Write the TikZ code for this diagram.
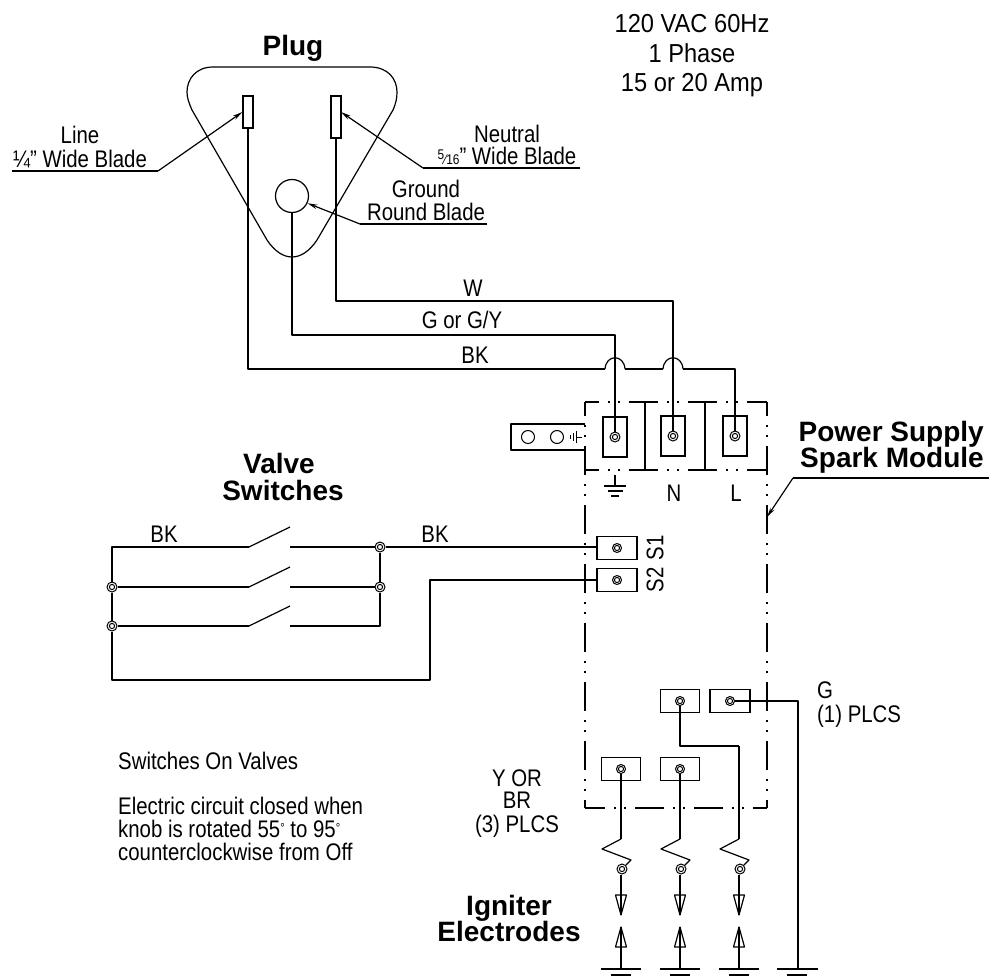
\documentclass[tikz,border=0pt]{standalone}
\usepackage{fontspec}
\setmainfont{Liberation Sans}[FakeStretch=0.85]
\newfontfamily\hbf{Liberation Sans}[BoldFont={Liberation Sans Bold}]
\newfontfamily\wdf{Liberation Sans}[FakeStretch=0.91]
\usetikzlibrary{arrows.meta,calc}
\newcommand{\degmark}{{\fontsize{13}{13}\selectfont\raisebox{5pt}{°}}}
\tikzset{
  wire/.style={line width=1.2pt,line join=round,black},
  plain/.style={line width=1.2pt,line join=round},
  box/.style={draw,line width=1.2pt,fill=white,rectangle,inner sep=0pt},
  module/.style={line width=1.2pt,dash pattern=on 29pt off 9pt on 2pt off 8pt on 2pt off 9pt},
  jct/.style={circle,draw,fill=white,line width=1pt,minimum size=10pt,inner sep=0pt,
    path picture={\draw[line width=1pt] (path picture bounding box.center) circle (2.6pt);}},
  lead/.style={line width=1.2pt,-{Stealth[length=10pt,width=4.5pt]}},
  big/.style={inner sep=0pt,anchor=base,font=\hbf\bfseries\fontsize{28}{28}\selectfont},
  txt/.style={inner sep=0pt,anchor=base,font=\fontsize{24}{24}\selectfont},
  txtl/.style={inner sep=0pt,anchor=base west,font=\fontsize{24}{24}\selectfont},
  tall/.style={inner sep=0pt,anchor=base,font=\wdf\fontsize{26}{26}\selectfont},
}
\begin{document}
\begin{tikzpicture}[x=1pt,y=-1pt]
\useasboundingbox (0,0) rectangle (989,980);
% plug
\draw[plain] (213,67) -- (370,67)
  .. controls (388,67) and (397,79) .. (397,92)
  .. controls (397,98) and (396,103) .. (393,110)
  -- (317,240)
  .. controls (309,252) and (300,257) .. (292,257)
  .. controls (284,257) and (275,252) .. (267,240)
  -- (192,110)
  .. controls (189,103) and (187,98) .. (187,92)
  .. controls (187,79) and (196,67) .. (213,67) -- cycle;
\node[box,minimum width=10pt,minimum height=32pt] (bladeL) at (248,112) {};
\node[box,minimum width=10pt,minimum height=42pt] (bladeN) at (336,117) {};
\node[circle,draw,line width=1.2pt,minimum size=33pt,inner sep=0pt] (bladeG) at (292,196) {};
% module outline
\draw[module,dash phase=15pt] (585,402) -- (767,402);
\draw[module,dash phase=15pt] (585,470) -- (767,470);
\draw[module,dash phase=15pt] (585,402) -- (585,808);
\draw[module,dash phase=15pt] (767,402) -- (767,808);
\draw[module,dash phase=9pt] (585,808) -- (767,808);
\coordinate (barAt) at (645,402); \coordinate (barAb) at (645,470);
\coordinate (barBt) at (705,402); \coordinate (barBb) at (705,470);
\draw[line width=1.4pt] (barAt) -- (barAb);
\draw[line width=1.4pt] (barBt) -- (barBb);
% ground tab
\coordinate (tabA) at (585,424); \coordinate (tabB) at (585,450);
\draw[plain] (tabA) -- (511,424) -- (511,450) -- (tabB);
\node[circle,draw,line width=1pt,minimum size=13pt,inner sep=0pt] (tabC1) at (528,437) {};
\node[circle,draw,line width=1pt,minimum size=13pt,inner sep=0pt] (tabC2) at (557,437) {};
\draw[line width=.9pt] (582,437) -- (576,437) (576,431) -- (576,443) (573,433) -- (573,441) (570.5,435) -- (570.5,439);
% terminals
\node[box,minimum width=24pt,minimum height=40pt] (tG) at (615,437) {};
\node[box,minimum width=24pt,minimum height=40pt] (tN) at (673,436) {};
\node[box,minimum width=24pt,minimum height=40pt] (tL) at (735,436) {};
\node[jct] (jG) at (615,437) {};
\node[jct] (jN) at (673,436) {};
\node[jct] (jL) at (735,436) {};
\node[box,minimum width=40pt,minimum height=23pt] (tS1) at (617,548) {};
\node[box,minimum width=40pt,minimum height=23pt] (tS2) at (617,580) {};
\node[jct,minimum size=9pt] (jS1) at (617,548) {};
\node[jct,minimum size=9pt] (jS2) at (617,580) {};
\node[box,minimum width=39pt,minimum height=23pt] (tA) at (680,701) {};
\node[box,minimum width=40pt,minimum height=23pt] (tB) at (730,701) {};
\node[box,minimum width=39pt,minimum height=23pt] (tC) at (621,769) {};
\node[box,minimum width=39pt,minimum height=23pt] (tD) at (680,769) {};
\node[jct,minimum size=9pt] (jA) at (680,701) {};
\node[jct,minimum size=9pt] (jB) at (730,701) {};
\node[jct,minimum size=9pt] (jC) at (621,769) {};
\node[jct,minimum size=9pt] (jD) at (680,769) {};
% mains wires
\coordinate (cL1) at (248,369); \coordinate (cG1) at (292,335); \coordinate (cN1) at (336,301);
\coordinate (h1a) at (605,369); \coordinate (h1b) at (625,369);
\coordinate (h2a) at (663,369); \coordinate (h2b) at (683,369);
\coordinate (cL2) at (735,369);
\draw[wire] (bladeL.south) -- (cL1) -- (h1a);
\draw[wire] (h1a) .. controls (606,354) and (624,354) .. (h1b);
\draw[wire] (h1b) -- (h2a);
\draw[wire] (h2a) .. controls (664,354) and (682,354) .. (h2b);
\draw[wire] (h2b) -- (cL2) -- (jL.north);
\draw[wire] (bladeG.south) -- (cG1) -| (jG.north);
\draw[wire] (bladeN.south) -- (cN1) -| (jN.north);
% earth below terminal
\coordinate (eTop) at (615,475);
\draw[plain] (eTop) -- (615,486) (604,486) -- (626,486) (607.5,491) -- (622.5,491) (611,496) -- (619,496);
% switches
\node[jct] (sL2) at (112,587) {};
\node[jct] (sL3) at (112,626) {};
\node[jct] (sR1) at (380,547) {};
\node[jct] (sR2) at (380,587) {};
\coordinate (sL1) at (112,547); \coordinate (sR3) at (380,626);
\coordinate (sBot) at (112,680); \coordinate (sTurn) at (430,680);
\coordinate (sp1) at (249,547); \coordinate (st1) at (290,527); \coordinate (sq1) at (290,547);
\coordinate (sp2) at (249,587); \coordinate (st2) at (290,567); \coordinate (sq2) at (290,587);
\coordinate (sp3) at (249,626); \coordinate (st3) at (290,606); \coordinate (sq3) at (290,626);
\draw[wire] (sL2.north) -- (sL1) -- (sp1);
\draw[wire] (sp1) -- (st1);
\draw[wire] (sL2.east) -- (sp2);
\draw[wire] (sp2) -- (st2);
\draw[wire] (sL3.east) -- (sp3);
\draw[wire] (sp3) -- (st3);
\draw[wire] (sq1) -- (sR1.west);
\draw[wire] (sq2) -- (sR2.west);
\draw[wire] (sq3) -- (sR3) -- (sR2.south);
\draw[wire] (sR2.north) -- (sR1.south);
\draw[wire] (sL2.south) -- (sL3.north);
\draw[wire] (sL3.south) -- (sBot) -- (sTurn) |- (tS2.west);
\draw[wire] (sR1.east) -- (sR1.east -| tS1.west);
% electrode wiring
\coordinate (aTurn) at (739,746);
\draw[wire] (jA.south) |- (aTurn);
\coordinate (rE) at (798,701);
\coordinate (gE) at (798,969);
\draw[wire] (jB.east) -- (rE) -- (gE);
\draw[plain] (777,969) -- (818,969) (787,975) -- (807,975);
\foreach \n/\x/\s in {C/621/jC.south,D/680/jD.south,E/739/aTurn}{
  \node[jct,minimum size=10pt] (e\n) at (\x+1,869) {};
  \coordinate (z\n1) at (\x,839);
  \coordinate (z\n2) at (\x-19,849);
  \coordinate (z\n3) at (\x+10,860);
  \coordinate (tipU\n) at (\x,915);
  \coordinate (tipL\n) at (\x,927);
  \coordinate (gnd\n) at (\x,969);
  \draw[wire] (\s) -- (z\n1);
  \draw[wire] (z\n1) -- (z\n2) -- (z\n3) -- (e\n.north east);
  \draw[wire] (e\n.south -| tipU\n) -- (tipU\n);
  \draw[plain] (\x-5.5,895) -- (\x+5.5,895) -- (tipU\n) -- cycle;
  \draw[plain] (\x-5.5,947) -- (\x+5.5,947) -- (tipL\n) -- cycle;
  \draw[wire] (tipL\n) -- (gnd\n);
  \draw[plain] (\x-20,969) -- (\x+20,969) (\x-10,975) -- (\x+10,975);
}
% leaders
\coordinate (lL0) at (12,171); \coordinate (lL1) at (158,171);
\draw[plain] (lL0) -- (lL1);
\draw[lead] (lL1) -- (bladeL.west);
\coordinate (lN0) at (580,168); \coordinate (lN1) at (423,168); \coordinate (lN2) at (341,112);
\draw[plain] (lN0) -- (lN1);
\draw[lead] (lN1) -- (lN2);
\coordinate (lG0) at (487,224); \coordinate (lG1) at (360,224);
\draw[plain] (lG0) -- (lG1);
\draw[lead] (lG1) -- (bladeG.-25);
\coordinate (lM0) at (989,478); \coordinate (lM1) at (793,478); \coordinate (lM2) at (767,517);
\draw[plain] (lM0) -- (lM1);
\draw[lead] (lM1) -- (lM2);
% text
\node[big] (tPlug) at (293,55) {Plug};
\node[tall] (m1) at (692,32) {120 VAC 60Hz};
\node[tall] (m2) at (692,62) {1 Phase};
\node[tall] (m3) at (692,91) {15 or 20 Amp};
\node[txt] (tLine1) at (80,143) {Line};
\node[txt] (tLine2) at (80,167) {¼" Wide Blade};
\node[txt] (tNeut1) at (507,142) {Neutral};
\node[txt] (tNeut2) at (507,164) {{\fontsize{14}{14}\selectfont\raisebox{5pt}{5}⁄16}" Wide Blade};
\node[txt] (tGnd1) at (426,197) {Ground};
\node[txt] (tGnd2) at (426,220) {Round Blade};
\node[txt] (lW) at (473,296) {W};
\node[txt] (lGY) at (462,328) {G or G/Y};
\node[txt] (lBK1) at (475,363) {BK};
\node[txt] (lBK2) at (164,542) {BK};
\node[txt] (lBK3) at (435,542) {BK};
\node[big] (tV1) at (279,473) {Valve};
\node[big] (tV2) at (283,500) {Switches};
\node[big,anchor=base east] (tP1) at (984,441) {Power Supply};
\node[big,anchor=base east] (tP2) at (984,467) {Spark Module};
\node[big] (tI1) at (509,915) {Igniter};
\node[big] (tI2) at (509,941) {Electrodes};
\node[txt] (lN) at (674,501) {N};
\node[txt] (lLL) at (736,501) {L};
\node[inner sep=0pt,rotate=90,font=\fontsize{24}{24}\selectfont] (lS1) at (655,548) {S1};
\node[inner sep=0pt,rotate=90,font=\fontsize{24}{24}\selectfont] (lS2) at (655,580) {S2};
\node[txtl] (lG) at (817,698) {G};
\node[txtl] (lP) at (817,722) {(1) PLCS};
\node[txt] (lY1) at (517,786) {Y OR};
\node[txt] (lY2) at (517,808) {BR};
\node[txt] (lY3) at (517,832) {(3) PLCS};
\node[txtl] (n1) at (118,769) {Switches On Valves};
\node[txtl] (n2) at (118,814) {Electric circuit closed when};
\node[txtl] (n3) at (118,837) {knob is rotated 55\degmark\ to 95\degmark};
\node[txtl] (n4) at (118,860) {counterclockwise from Off};
\end{tikzpicture}
\end{document}
